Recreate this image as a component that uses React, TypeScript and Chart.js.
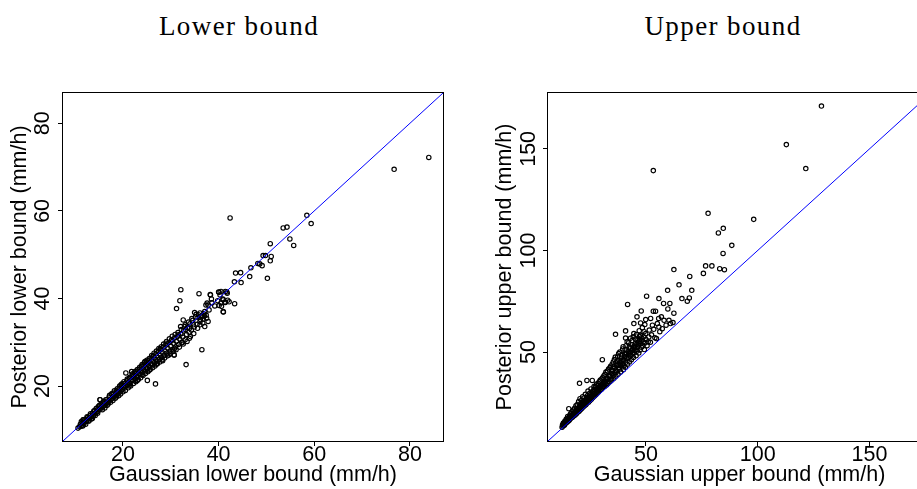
import React, { useEffect, useRef } from "react";
import { Chart, registerables } from "chart.js";

Chart.register(...registerables);

// ---- Left panel: Gaussian lower bound (x) vs Posterior lower bound (y), mm/h ----
const lowerPairs: [number, number][] = [
  [10.6, 10.4], [10.9, 10.7], [11.1, 11.3], [11.2, 10.8], [11.4, 11.0], [11.5, 11.7], [11.7, 12.3], [11.8, 11.4],
  [12.0, 11.8], [12.1, 12.4], [12.3, 11.9], [12.4, 12.1], [12.6, 12.8], [12.8, 12.2], [13.0, 12.7], [13.1, 13.3],
  [13.3, 12.9], [13.5, 13.1], [13.6, 13.8], [13.8, 13.2], [14.0, 13.7], [14.1, 14.4], [14.3, 13.9], [14.5, 14.0],
  [14.6, 15.0], [14.8, 14.3], [15.0, 14.7], [15.1, 15.6], [15.2, 16.9], [15.3, 14.8], [15.5, 15.2], [15.6, 16.1],
  [15.8, 15.3], [16.0, 15.5], [16.1, 16.5], [16.3, 15.7], [16.5, 16.1], [16.6, 16.9], [16.8, 16.2], [17.0, 16.6],
  [17.1, 17.5], [17.3, 16.8], [17.5, 17.0], [17.6, 18.1], [17.8, 17.2], [18.0, 17.6], [18.1, 18.4], [18.3, 17.7],
  [18.5, 18.0], [18.7, 18.9], [18.9, 18.2], [19.0, 18.6], [19.2, 19.5], [19.4, 18.7], [19.6, 19.1], [19.7, 20.1],
  [19.9, 19.2], [20.1, 19.7], [20.3, 20.6], [20.4, 19.6], [20.6, 23.0], [20.6, 20.1], [20.8, 21.2], [21.0, 20.3],
  [21.2, 20.8], [21.3, 21.7], [21.5, 20.6], [21.7, 21.2], [21.8, 23.3], [21.9, 22.3], [22.1, 21.3], [22.3, 21.8],
  [22.4, 22.9], [22.6, 21.7], [22.8, 22.3], [22.9, 23.4], [23.1, 22.1], [23.3, 22.8], [23.4, 23.9], [23.6, 22.7],
  [23.8, 23.3], [23.9, 24.5], [24.1, 23.1], [24.3, 23.8], [24.4, 25.0], [24.6, 23.5], [24.8, 24.2], [24.9, 25.3],
  [25.1, 21.3], [25.1, 24.0], [25.3, 24.7], [25.4, 25.9], [25.6, 24.4], [25.8, 25.1], [25.9, 26.4], [26.1, 24.9],
  [26.3, 25.6], [26.4, 26.9], [26.6, 25.3], [26.8, 20.5], [26.8, 26.1], [26.9, 27.4], [27.1, 25.7], [27.3, 26.6],
  [27.4, 27.9], [27.6, 26.1], [27.8, 27.1], [27.9, 28.4], [28.1, 26.5], [28.3, 27.6], [28.4, 28.9], [28.6, 27.0],
  [28.8, 28.0], [29.0, 29.4], [29.2, 27.5], [29.4, 28.6], [29.6, 29.9], [29.8, 28.0], [30.0, 29.1], [30.2, 30.6],
  [30.4, 28.4], [30.6, 29.7], [30.7, 27.1], [30.8, 31.0], [31.0, 29.0], [31.2, 30.2], [31.2, 37.7], [31.4, 31.3],
  [31.6, 29.5], [31.9, 39.5], [31.9, 30.7], [32.1, 42.0], [32.1, 31.9], [32.3, 30.0], [32.5, 31.2], [32.7, 32.6],
  [33.0, 30.6], [33.2, 24.9], [33.3, 31.8], [33.5, 33.4], [33.8, 32.3], [34.0, 34.2], [34.3, 32.8], [34.6, 35.0],
  [34.9, 33.5], [35.2, 35.8], [35.5, 34.1], [35.9, 41.1], [35.8, 36.3], [36.1, 34.7], [36.4, 36.0], [36.5, 28.3],
  [36.8, 35.3], [37.1, 37.0], [37.4, 36.2], [37.8, 38.5], [38.0, 37.4], [38.3, 40.8], [38.6, 39.0], [39.2, 38.3],
  [39.8, 39.5], [40.0, 41.5], [40.3, 40.8], [40.6, 38.2], [40.9, 39.9], [41.0, 36.9], [41.3, 39.2], [41.7, 41.5],
  [41.9, 39.6], [42.4, 58.4], [43.3, 43.8], [43.35, 38.8], [43.55, 45.8], [44.6, 45.9], [44.7, 43.65], [46.5, 45.0],
  [46.75, 47.0], [48.2, 48.0], [49.1, 47.5], [49.3, 49.8], [49.8, 49.8], [50.2, 44.6], [50.8, 52.5], [50.8, 48.6],
  [53.5, 56.1], [54.3, 56.3], [54.9, 53.6], [55.7, 52.1], [58.45, 59.0], [59.35, 57.1], [76.7, 69.5], [83.95, 72.2],
  [38.25, 40.9], [40.1, 41.4], [40.5, 41.6], [41.4, 41.6], [41.8, 41.2], [38.5, 39.9], [37.6, 38.95], [37.35, 38.5],
  [40.95, 39.7], [40.5, 38.95], [40.1, 38.4], [41.4, 39.1], [42.2, 39.25], [40.96, 37.0], [34.98, 36.8], [36.1, 36.7],
  [36.9, 36.5], [35.7, 35.7], [36.5, 35.9], [37.5, 35.5], [37.8, 34.75], [37.1, 33.6], [36.1, 34.0], [32.6, 35.1],
  [33.0, 34.0], [32.05, 33.6], [33.9, 33.2], [30.7, 27.1], [15.2, 16.9], [11.7, 12.3], [48.6, 47.9], [51.0, 49.6],
];

// additional points of the dense band along the diagonal (left panel)
const lowerBandPairs: [number, number][] = [
  [11.3, 11.9], [11.6, 10.9], [12.2, 11.3], [12.5, 13.0], [12.9, 12.0], [13.2, 13.7], [13.4, 12.5], [13.9, 14.3],
  [14.2, 13.3], [14.4, 14.9], [14.7, 13.8], [15.4, 15.8], [15.7, 14.6], [15.9, 16.4], [16.2, 15.0], [16.4, 16.9],
  [16.7, 15.6], [17.2, 17.9], [17.4, 16.3], [17.7, 18.3], [17.9, 16.7], [18.2, 18.9], [18.4, 17.2], [18.8, 19.4],
  [19.1, 17.8], [19.3, 20.0], [19.5, 18.2], [19.8, 20.5], [20.0, 18.7], [20.2, 21.0], [20.5, 19.0], [20.9, 21.6],
  [21.1, 19.6], [21.4, 22.0], [21.6, 20.0], [22.0, 22.8], [22.2, 20.6], [22.5, 23.3], [22.7, 21.0], [23.0, 23.8],
  [23.2, 21.5], [23.5, 24.3], [23.7, 21.9], [24.0, 24.9], [24.2, 22.4], [24.5, 25.4], [24.7, 22.9], [25.0, 25.9],
  [25.2, 23.3], [25.5, 26.3], [25.7, 23.8], [26.0, 27.0], [26.2, 24.2], [26.5, 27.5], [26.7, 24.6], [27.0, 28.0],
  [27.2, 25.1], [27.5, 28.6], [27.7, 25.5], [28.0, 29.0], [28.2, 26.0], [28.5, 29.6], [28.7, 26.4], [29.1, 30.2],
  [29.3, 26.9], [29.7, 30.8], [29.9, 27.4], [30.3, 31.4], [30.5, 27.9], [30.9, 31.8], [31.1, 28.3], [31.5, 32.2],
  [31.8, 28.9], [32.2, 32.9], [32.6, 29.6], [32.9, 33.6], [33.4, 30.2], [33.7, 34.6], [34.1, 31.3], [34.4, 35.4],
  [34.8, 32.0], [35.3, 36.4], [35.6, 33.2], [36.2, 35.2], [36.7, 34.4], [37.0, 36.0],
  [13.6, 12.6], [14.9, 15.4], [16.9, 15.9], [18.6, 17.5], [19.6, 20.3], [21.3, 20.0], [22.1, 22.6], [23.0, 21.3],
  [24.0, 22.6], [24.6, 25.6], [25.5, 23.6], [26.3, 26.8], [27.0, 25.0], [27.8, 28.5], [28.3, 25.8], [29.0, 29.8],
  [29.6, 27.1], [30.1, 30.3], [30.8, 28.6], [31.6, 31.7], [32.4, 29.9], [33.1, 32.9], [33.9, 30.9], [34.7, 34.0],
];

// ---- Right panel: Gaussian upper bound (x) vs Posterior upper bound (y), mm/h ----
const upperPairs: [number, number][] = [
  [12.5, 13.0], [12.8, 13.6], [13.0, 14.5], [13.2, 13.9], [13.4, 15.2], [13.6, 14.3], [13.8, 16.0], [14.0, 14.8],
  [14.2, 15.6], [14.4, 17.0], [14.6, 15.3], [14.8, 16.4], [15.0, 18.2], [15.2, 15.9], [15.5, 22.1], [15.5, 17.1],
  [15.7, 16.4], [15.9, 18.8], [16.1, 17.0], [16.3, 19.6], [16.5, 17.5], [16.7, 18.3], [16.9, 20.5], [17.1, 17.9],
  [17.3, 19.2], [17.5, 21.4], [17.7, 18.5], [17.9, 20.1], [18.1, 22.3], [18.3, 19.0], [18.5, 20.8], [18.7, 23.5],
  [18.9, 19.6], [19.1, 21.6], [19.3, 24.2], [19.5, 20.3], [19.7, 22.4], [19.9, 25.6], [20.1, 20.9], [20.3, 34.6],
  [20.3, 23.2], [20.5, 27.0], [20.7, 21.6], [20.9, 24.0], [21.1, 26.1], [21.3, 22.2], [21.5, 24.9], [21.7, 28.0],
  [21.9, 22.9], [22.1, 25.6], [22.3, 27.4], [22.5, 23.5], [22.7, 26.3], [22.9, 29.2], [23.1, 24.1], [23.3, 27.0],
  [23.6, 36.0], [23.5, 24.6], [23.7, 25.8], [23.9, 28.6], [24.1, 30.8], [24.3, 25.3], [24.5, 27.4], [24.7, 29.6],
  [24.9, 26.0], [25.1, 28.1], [25.4, 31.8], [25.6, 26.7], [25.9, 29.0], [26.0, 36.0], [26.2, 27.5], [26.5, 30.2],
  [26.8, 33.0], [27.0, 28.3], [27.3, 31.2], [27.6, 29.0], [27.9, 34.2], [28.2, 29.7], [28.5, 32.2], [28.8, 30.3],
  [29.1, 35.4], [29.4, 31.0], [29.7, 33.4], [30.0, 31.5], [30.3, 36.8], [30.5, 46.2], [30.6, 32.3], [30.9, 34.6],
  [31.2, 38.3], [31.5, 33.0], [31.8, 35.9], [32.1, 40.1], [32.4, 33.8], [32.7, 37.2], [33.0, 34.5], [33.3, 41.6],
  [33.6, 38.3], [33.9, 35.4], [34.2, 43.0], [34.5, 39.5], [34.8, 36.2], [35.1, 40.8], [35.4, 45.1], [35.7, 37.1],
  [36.0, 42.0], [36.4, 58.7], [36.3, 47.5], [36.6, 38.1], [36.9, 43.3], [37.2, 45.6], [37.5, 39.0], [37.8, 49.2],
  [38.1, 41.5], [38.4, 44.8], [38.7, 40.2], [39.0, 47.0], [39.3, 42.6], [39.6, 51.5], [39.9, 41.3], [40.2, 45.9],
  [40.5, 49.0], [40.9, 60.4], [40.9, 56.9], [40.8, 42.5], [41.1, 53.1], [41.4, 46.8], [41.8, 73.4], [41.7, 44.0],
  [42.0, 50.3], [42.3, 54.6], [42.6, 45.1], [42.9, 48.1], [43.2, 52.0], [43.5, 46.2], [43.8, 55.7], [44.1, 49.5],
  [44.6, 64.0], [44.6, 59.1], [44.4, 47.3], [44.7, 53.0], [45.0, 50.8], [45.3, 56.4], [45.6, 48.2], [46.0, 67.3],
  [46.2, 52.4], [46.5, 54.8], [46.8, 49.5], [47.1, 57.7], [47.4, 51.0], [47.6, 58.2], [47.6, 64.3], [47.9, 70.2],
  [47.7, 54.1], [48.0, 52.3], [48.3, 55.9], [48.6, 53.0], [49.0, 57.5], [49.3, 51.2], [49.9, 66.0], [49.9, 59.1],
  [49.6, 54.5], [50.0, 56.2], [50.3, 77.5], [50.5, 53.1], [51.0, 55.0], [51.3, 57.4], [51.5, 60.8], [52.1, 66.5],
  [52.0, 54.8], [52.5, 58.5], [52.9, 63.2], [53.3, 70.1], [53.3, 139.3], [53.5, 61.2], [54.0, 57.0], [54.3, 70.1],
  [54.7, 56.6], [55.1, 64.0], [55.7, 66.5], [55.8, 62.3], [55.8, 76.3], [56.2, 60.0], [56.9, 67.3], [57.3, 61.5],
  [57.9, 73.9], [58.1, 65.6], [59.0, 63.2], [59.7, 80.4], [59.8, 71.2], [60.3, 65.6], [60.7, 73.9], [61.0, 64.0],
  [62.1, 64.5], [62.5, 69.1], [62.5, 90.6], [64.8, 83.1], [66.1, 76.3], [68.5, 75.0], [69.4, 76.6], [69.6, 87.2],
  [70.5, 80.4], [75.7, 88.7], [76.7, 92.4], [77.8, 118.3], [79.5, 92.4], [82.4, 108.6], [83.0, 91.0], [84.5, 98.5],
  [84.6, 110.9], [85.1, 90.5], [88.4, 102.5], [98.2, 115.3], [112.8, 152.1], [121.5, 140.3], [128.5, 171.1],
];

// additional points of the dense cloud above the diagonal (right panel)
const upperBandPairs: [number, number][] = [
  [12.7, 14.1], [13.1, 15.0], [13.5, 14.0], [13.9, 15.4], [14.3, 16.2], [14.7, 15.8], [15.1, 17.3], [15.4, 16.5],
  [15.8, 17.6], [16.2, 18.2], [16.6, 17.8], [17.0, 19.0], [17.4, 18.7], [17.8, 19.6], [18.2, 20.3], [18.6, 19.8],
  [19.0, 20.9], [19.4, 21.5], [19.8, 21.0], [20.2, 22.2], [20.6, 23.1], [21.0, 22.5], [21.4, 23.8], [21.8, 24.6],
  [22.2, 23.7], [22.6, 25.0], [23.0, 26.1], [23.4, 25.2], [23.8, 26.9], [24.2, 27.8], [24.6, 26.4], [25.0, 29.0],
  [25.3, 27.2], [25.7, 28.4], [26.1, 30.6], [26.4, 28.0], [26.7, 31.5], [27.1, 29.6], [27.4, 32.8], [27.8, 30.1],
  [28.1, 33.4], [28.4, 31.0], [28.7, 34.6], [29.0, 31.9], [29.3, 33.0], [29.6, 36.2], [29.9, 32.6], [30.2, 34.0],
  [30.7, 37.5], [31.0, 33.2], [31.3, 35.4], [31.7, 39.0], [32.0, 34.3], [32.3, 36.6], [32.8, 40.6], [33.1, 35.6],
  [33.5, 38.0], [33.9, 42.2], [34.3, 36.6], [34.6, 41.0], [34.9, 44.0], [35.3, 38.4], [35.6, 42.9], [35.9, 46.3],
  [36.2, 39.8], [36.7, 44.6], [37.0, 40.6], [37.4, 47.8], [37.7, 42.3], [38.0, 46.0], [38.3, 50.0], [38.6, 43.4],
  [38.9, 45.5], [39.2, 48.6], [39.5, 44.0], [39.8, 52.6], [40.1, 43.1], [40.4, 47.6], [40.7, 51.2], [41.0, 45.0],
  [41.3, 49.4], [41.6, 55.0], [42.2, 47.2], [42.5, 52.4], [42.8, 50.0], [43.1, 56.8], [43.4, 48.4], [43.7, 53.6],
  [44.0, 51.3], [44.3, 57.5], [44.9, 49.6], [45.2, 54.0], [45.5, 52.2], [45.8, 58.6], [46.1, 50.5], [46.4, 56.0],
  [46.7, 53.5], [47.0, 60.5], [47.3, 55.2], [48.1, 57.0], [48.4, 62.0], [48.8, 55.0], [49.2, 60.0], [49.5, 63.5],
  [20.8, 22.8], [22.0, 24.0], [23.2, 25.7], [24.4, 26.9], [25.6, 28.3], [26.8, 29.5], [28.0, 31.3], [29.2, 32.4],
  [30.4, 33.7], [31.6, 34.9], [32.8, 36.9], [34.0, 38.2], [35.2, 39.4], [36.4, 41.1], [37.6, 43.9], [38.8, 44.1],
  [40.0, 46.2], [41.2, 47.9], [42.4, 49.1], [43.6, 50.6], [44.8, 52.4], [46.0, 53.8], [47.2, 56.2],
];

// axis limits (same for x and y) and tick values
const lowerLimits = [7.46, 86.92];
const upperLimits = [6.2, 177.5];
const lowerTicks = [20, 40, 60, 80];
const upperTicks = [50, 100, 150];

const titles = ["Lower bound", "Upper bound"];
const xTitles = ["Gaussian lower bound (mm/h)", "Gaussian upper bound (mm/h)"];
const yTitles = ["Posterior lower bound (mm/h)", "Posterior upper bound (mm/h)"];

const SANS = '"Liberation Sans", Arial, Helvetica, sans-serif';
const FS = 21.5;

const framePlugin = {
  id: "frameBox",
  afterDatasetsDraw(chart: any) {
    const { ctx, chartArea } = chart;
    ctx.save();
    ctx.strokeStyle = "#000";
    ctx.lineWidth = 1;
    ctx.strokeRect(
      chartArea.left - 0.5,
      chartArea.top - 0.5,
      chartArea.right - chartArea.left + 1,
      chartArea.bottom - chartArea.top + 1
    );
    ctx.restore();
  },
};

function makeConfig(
  pairs: [number, number][],
  limits: number[],
  ticks: number[],
  xTitle: string,
  yTitle: string,
  padLeft: number,
  padRight: number,
  yTickPad: number
): any {
  const axisCommon = (tv: number[]) => ({
    type: "linear",
    min: limits[0],
    max: limits[1],
    afterBuildTicks: (s: any) => {
      s.ticks = tv.map((v) => ({ value: v }));
    },
    grid: {
      drawOnChartArea: false,
      drawTicks: true,
      tickLength: 5,
      color: "#000",
      tickColor: "#000",
      lineWidth: 1,
    },
    border: { display: false },
  });
  return {
    type: "scatter",
    data: {
      datasets: [
        {
          type: "line",
          data: [
            { x: limits[0], y: limits[0] },
            { x: limits[1], y: limits[1] },
          ],
          borderColor: "#0000ff",
          borderWidth: 1,
          pointRadius: 0,
          fill: false,
          order: 0,
        },
        {
          type: "scatter",
          data: pairs.map(([x, y]) => ({ x, y })),
          pointRadius: 2.2,
          pointHoverRadius: 2.2,
          borderColor: "#000",
          borderWidth: 1.15,
          backgroundColor: "rgba(0,0,0,0)",
          order: 1,
        },
      ],
    },
    options: {
      responsive: false,
      animation: false,
      events: [],
      layout: { padding: { top: 93, left: padLeft, right: padRight, bottom: 0 } },
      plugins: { legend: { display: false }, tooltip: { enabled: false } },
      scales: {
        x: {
          ...axisCommon(ticks),
          position: "bottom",
          afterFit: (s: any) => {
            s.height = 48;
          },
          ticks: {
            font: { family: SANS, size: FS, lineHeight: 1 },
            color: "#000",
            padding: -2,
            autoSkip: false,
            maxRotation: 0,
            minRotation: 0,
          },
          title: {
            display: true,
            text: xTitle,
            color: "#000",
            font: { family: SANS, size: FS },
            padding: { top: 0, bottom: 1.5 },
          },
        },
        y: {
          ...axisCommon(ticks),
          position: "left",
          afterFit: (s: any) => {
            s.width = 63;
          },
          ticks: {
            font: { family: SANS, size: FS, lineHeight: 1 },
            color: "#000",
            padding: yTickPad,
            autoSkip: false,
            minRotation: 90,
            maxRotation: 90,
            crossAlign: "center",
          },
          title: {
            display: true,
            text: yTitle,
            color: "#000",
            font: { family: SANS, size: FS },
            padding: { top: 7.6, bottom: 0 },
          },
        },
      },
    },
    plugins: [framePlugin],
  };
}

const titleStyle = (left: number): React.CSSProperties => ({
  position: "absolute",
  left,
  top: 13,
  width: 200,
  textAlign: "center",
  fontFamily: '"Liberation Serif", "Times New Roman", serif',
  fontSize: 27,
  lineHeight: "27px",
  letterSpacing: "1.4px",
  color: "#000",
  whiteSpace: "nowrap",
});

export default function App() {
  const leftRef = useRef<HTMLCanvasElement>(null);
  const rightRef = useRef<HTMLCanvasElement>(null);

  useEffect(() => {
    const c1 = new Chart(
      leftRef.current as HTMLCanvasElement,
      makeConfig(
        [...lowerPairs, ...lowerBandPairs],
        lowerLimits,
        lowerTicks,
        xTitles[0],
        yTitles[0],
        0,
        17,
        3
      )
    );
    const c2 = new Chart(
      rightRef.current as HTMLCanvasElement,
      makeConfig(
        [...upperPairs, ...upperBandPairs],
        upperLimits,
        upperTicks,
        xTitles[1],
        yTitles[1],
        25,
        9,
        -3.8
      )
    );
    return () => {
      c1.destroy();
      c2.destroy();
    };
  }, []);

  return (
    <div
      style={{
        position: "fixed",
        left: 0,
        top: 0,
        width: 917,
        height: 489,
        overflow: "hidden",
        background: "#fff",
      }}
    >
      <div style={titleStyle(139)}>{titles[0]}</div>
      <div style={titleStyle(623)}>{titles[1]}</div>
      <canvas
        ref={leftRef}
        width={460}
        height={489}
        style={{ position: "absolute", left: 0, top: 0 }}
      />
      <canvas
        ref={rightRef}
        width={480}
        height={489}
        style={{ position: "absolute", left: 460, top: 0 }}
      />
    </div>
  );
}
